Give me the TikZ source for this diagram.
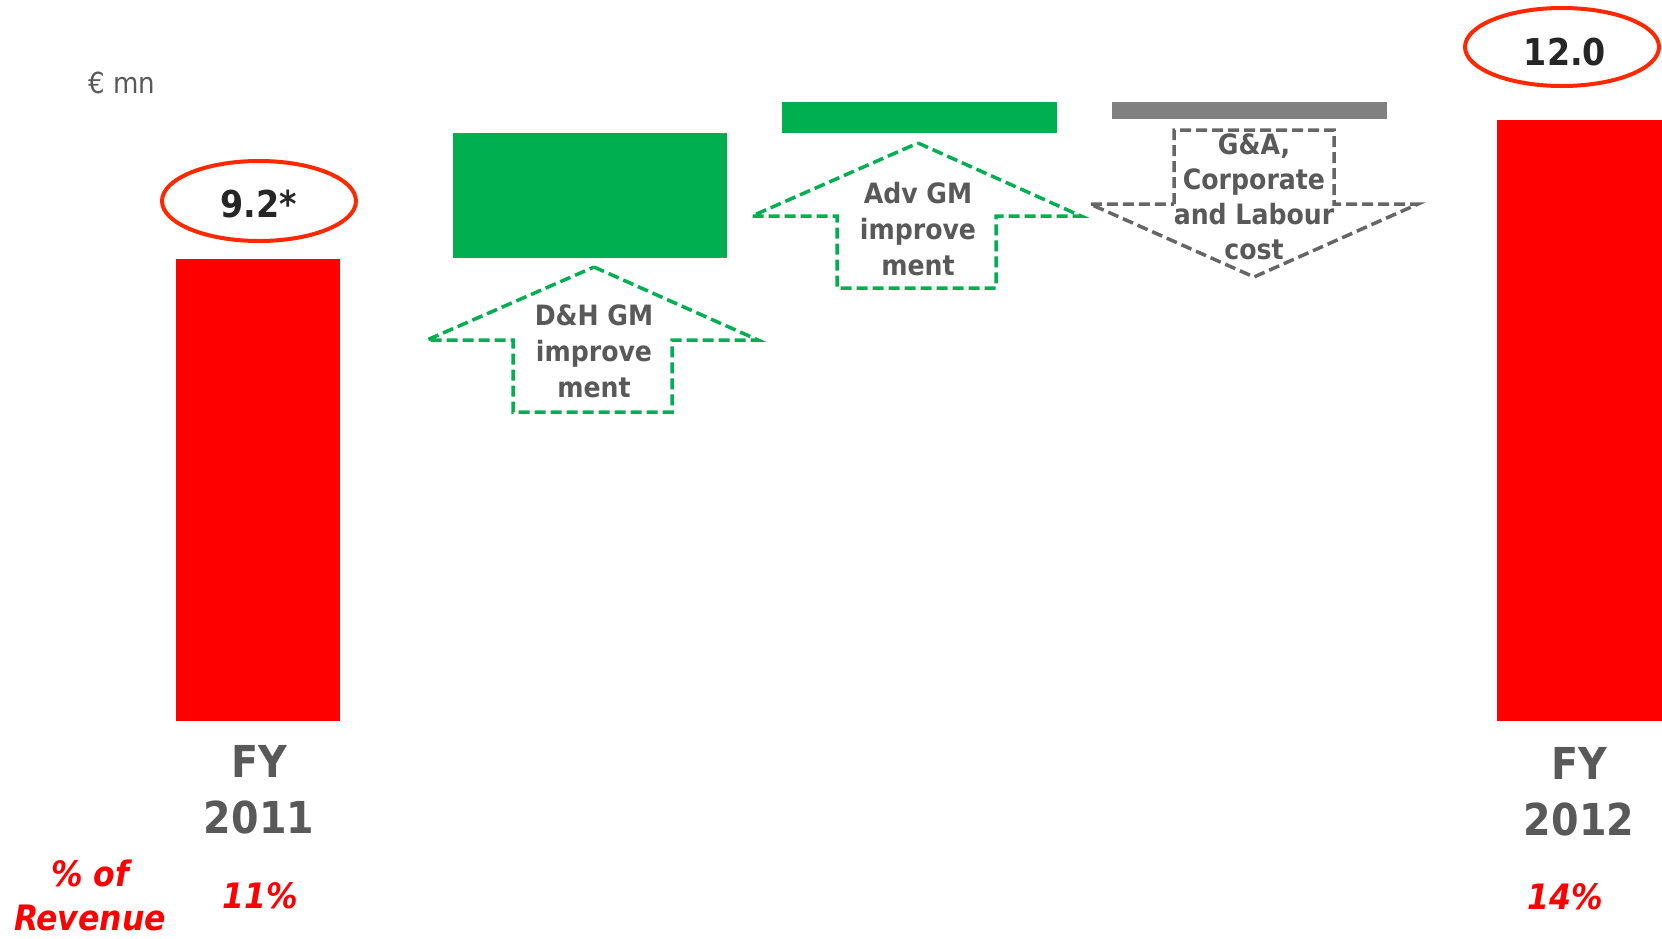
\documentclass[tikz,border=0pt]{standalone}
\usepackage{fontspec}
\setmainfont{DejaVu Sans Condensed}
\definecolor{barred}{RGB}{255,0,0}
\definecolor{bargreen}{RGB}{0,176,80}
\definecolor{bargray}{RGB}{128,128,128}
\definecolor{txtgray}{RGB}{89,89,89}
\definecolor{ellred}{RGB}{255,40,0}
\definecolor{dashgray}{RGB}{102,102,102}
\definecolor{valtxt}{RGB}{38,38,38}
\begin{document}
\begin{tikzpicture}[x=1pt,y=-1pt,
  ring/.style={draw=ellred, line width=4pt},
  upshape/.style={draw=bargreen, line width=3.5pt, dash pattern=on 11pt off 5pt, line join=miter},
  downshape/.style={draw=dashgray, line width=3.5pt, dash pattern=on 11pt off 5pt, line join=miter},
  lbl/.style={text=txtgray, font=\bfseries\fontsize{28}{36}\selectfont, align=center, inner sep=0pt},
  fy/.style={text=txtgray, font=\bfseries\fontsize{44}{56}\selectfont, align=center, inner sep=0pt},
  pct/.style={text=barred, font=\bfseries\itshape\fontsize{35}{44}\selectfont, align=center, inner sep=0pt},
  val/.style={text=valtxt, font=\bfseries\fontsize{37}{40}\selectfont, inner sep=0pt},
  unit/.style={text=txtgray, font=\fontsize{29}{32}\selectfont, inner sep=0pt}]
\useasboundingbox (0,0) rectangle (1662,938);

% bars
\fill[barred] (176,259) rectangle (340,721);
\fill[bargreen] (453,133) rectangle (727,258);
\fill[bargreen] (782,102) rectangle (1057,133);
\fill[bargray] (1112,102) rectangle (1387,119);
\fill[barred] (1497,120) rectangle (1662,721);

% value ellipses
\draw[ring] (259,201) ellipse [x radius=97pt, y radius=40pt];
\node[val] (v1) at (259,204) {9.2*};
\draw[ring] (1562,47) ellipse [x radius=97pt, y radius=39pt];
\node[val] (v2) at (1565,52) {12.0};

% dashed arrows
\draw[upshape] (594,267) -- (758,340) -- (672,340) -- (672,412) -- (513,412) -- (513,340) -- (427,340) -- cycle;
\node[lbl] (a1) at (594,351) {D\&H GM\\improve\\ment};
\draw[upshape] (918,143) -- (1081,216) -- (996,216) -- (996,288) -- (837,288) -- (837,216) -- (752,216) -- cycle;
\node[lbl] (a2) at (918,229) {Adv GM\\improve\\ment};
\draw[downshape] (1174,204) -- (1174,130) -- (1334,130) -- (1334,204) -- (1418,204) -- (1254,277) -- (1090,204) -- cycle;
\node[lbl, font=\bfseries\fontsize{28}{35}\selectfont] (a3) at (1254,197) {G\&A,\\Corporate\\and Labour\\cost};

% labels
\node[unit] (u) at (122,83) {€ mn};
\node[fy] (fy1) at (259,790) {FY\\2011};
\node[fy] (fy2) at (1579,792) {FY\\2012};
\node[pct] (pr) at (90,895) {\% of\\Revenue};
\node[pct] (p1) at (260,896) {11\%};
\node[pct] (p2) at (1565,897) {14\%};
\end{tikzpicture}
\end{document}
